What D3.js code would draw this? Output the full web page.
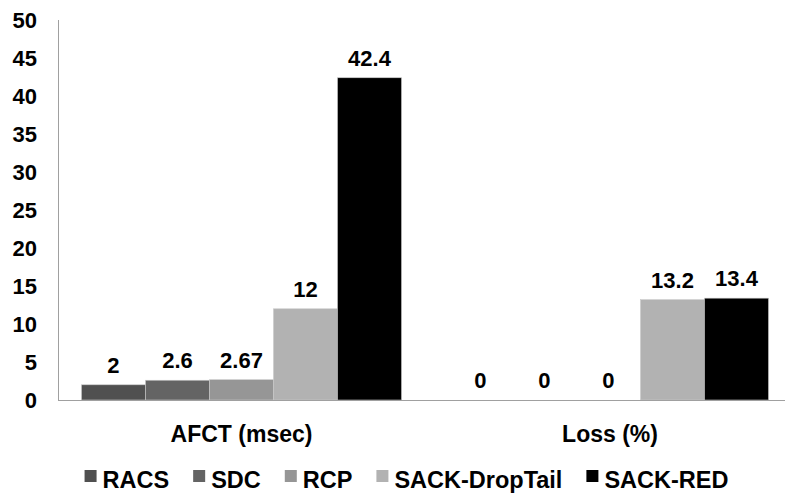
<!DOCTYPE html>
<html>
<head>
<meta charset="utf-8">
<script src="https://cdn.jsdelivr.net/npm/d3@7"></script>
<style>
  body { margin: 0; background: #fff; }
  text { font-family: "Liberation Sans", Arial, Helvetica, sans-serif; font-weight: bold; fill: #000; }
</style>
</head>
<body>
<script>
  // chart data
  var categories = ["AFCT (msec)", "Loss (%)"];
  var seriesNames = ["RACS", "SDC", "RCP", "SACK-DropTail", "SACK-RED"];
  var seriesColors = ["#505050", "#646464", "#969696", "#b2b2b2", "#000000"];
  var racs = [2, 0];
  var sdc = [2.6, 0];
  var rcp = [2.67, 0];
  var sackDropTail = [12, 13.2];
  var sackRed = [42.4, 13.4];
  var yTicks = [0, 5, 10, 15, 20, 25, 30, 35, 40, 45, 50];

  var values = [racs, sdc, rcp, sackDropTail, sackRed];

  var width = 785,
      height = 495;

  var svg = d3.select("body").append("svg")
    .attr("width", width)
    .attr("height", height);

  // scales
  var x0 = d3.scaleBand()
    .domain(categories)
    .range([58, 792])
    .paddingInner(0.128)
    .paddingOuter(0.064);

  var x1 = d3.scaleBand()
    .domain(seriesNames)
    .range([0, x0.bandwidth()]);

  var y = d3.scaleLinear()
    .domain([0, 50])
    .range([400, 20]);

  // y tick labels
  svg.append("g").selectAll("text")
    .data(yTicks)
    .enter().append("text")
    .attr("x", 37)
    .attr("y", function(d) { return y(d); })
    .attr("dy", "0.36em")
    .attr("text-anchor", "end")
    .style("font-size", "22px")
    .text(function(d) { return d; });

  // bars
  var groups = svg.append("g").selectAll("g")
    .data(categories)
    .enter().append("g")
    .attr("transform", function(d) { return "translate(" + x0(d) + ",0)"; });

  groups.selectAll("rect")
    .data(function(c, i) {
      return seriesNames.map(function(s, j) { return {series: s, color: seriesColors[j], value: values[j][i]}; });
    })
    .enter().append("rect")
    .attr("x", function(d) { return x1(d.series); })
    .attr("width", x1.bandwidth())
    .attr("y", function(d) { return y(d.value); })
    .attr("height", function(d) { return y(0) - y(d.value); })
    .attr("fill", function(d) { return d.color; })
    .attr("stroke", "#c8c8c8")
    .attr("stroke-width", 0.6);

  // value labels
  groups.selectAll("text")
    .data(function(c, i) {
      return seriesNames.map(function(s, j) { return {series: s, value: values[j][i]}; });
    })
    .enter().append("text")
    .attr("x", function(d) { return x1(d.series) + x1.bandwidth() / 2; })
    .attr("y", function(d) { return y(d.value) - 12; })
    .attr("text-anchor", "middle")
    .style("font-size", "22px")
    .text(function(d) { return d.value; });

  // axes lines
  svg.append("line")
    .attr("x1", 58.5).attr("x2", 58.5)
    .attr("y1", y(50)).attr("y2", y(0))
    .attr("stroke", "#a0a0a0")
    .attr("stroke-width", 1);

  svg.append("line")
    .attr("x1", 58).attr("x2", 792)
    .attr("y1", y(0) + 0.5).attr("y2", y(0) + 0.5)
    .attr("stroke", "#a0a0a0")
    .attr("stroke-width", 1);

  // category labels
  svg.append("g").selectAll("text")
    .data(categories)
    .enter().append("text")
    .attr("x", function(d, i) { return i == 0 ? x0(d) + x0.bandwidth() / 2 : 610; })
    .attr("y", 442)
    .attr("text-anchor", "middle")
    .style("font-size", "23px")
    .text(function(d) { return d; });

  // legend
  var legend = svg.append("g");
  var lx = 0;
  seriesNames.forEach(function(s, i) {
    var item = legend.append("g").attr("transform", "translate(" + lx + ",0)");
    item.append("rect")
      .attr("x", 0).attr("y", 470)
      .attr("width", 12).attr("height", 12)
      .attr("fill", seriesColors[i]);
    var t = item.append("text")
      .attr("x", 18).attr("y", 488)
      .style("font-size", "23.5px")
      .text(s);
    lx += 18 + t.node().getComputedTextLength() + 24;
  });
  var legendWidth = lx - 24;
  legend.attr("transform", "translate(" + (406.5 - legendWidth / 2) + ",0)");
</script>
</body>
</html>
